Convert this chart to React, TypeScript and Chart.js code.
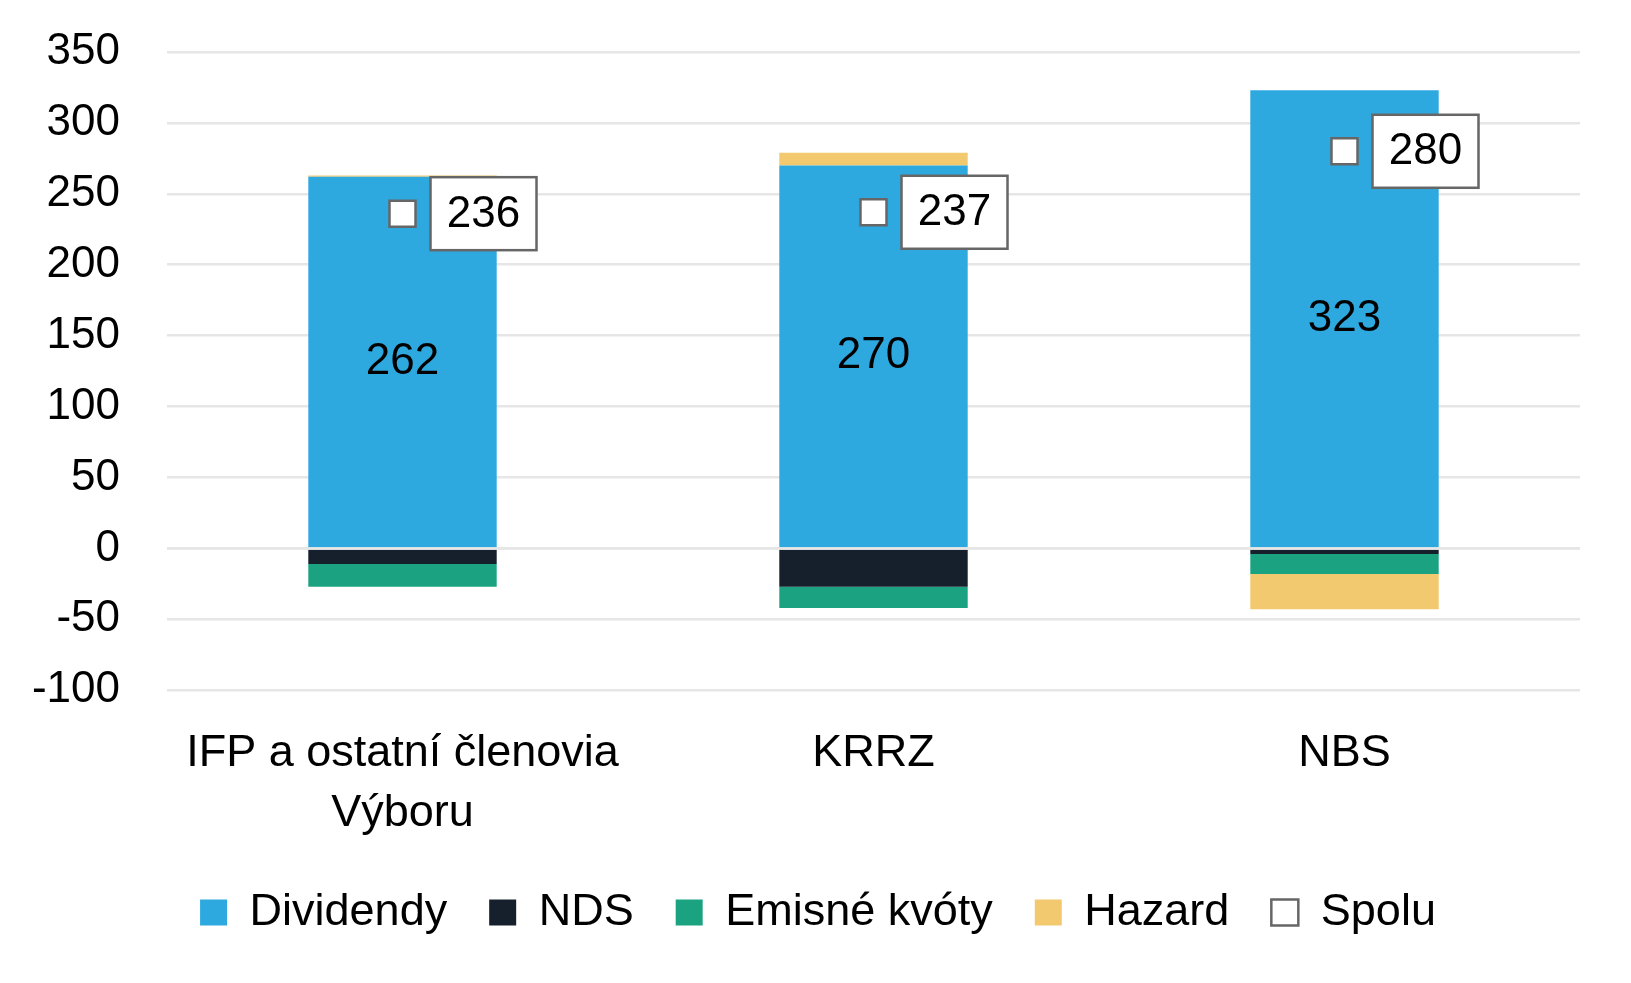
import { useEffect, useRef } from 'react';
import Chart from 'chart.js/auto';

const FONT = '"Liberation Sans", Arial, sans-serif';
const GRID_COLOR = '#e6e6e6';

const categories = [['IFP a ostatní členovia', 'Výboru'], 'KRRZ', 'NBS'];
const dividendy = [262, 270, 323];
const nds = [-11, -27, -4];
const emisneKvoty = [-16, -15, -14];
const hazard = [1, 9, -25];
const spolu = [236, 237, 280];
const yTicks = [-100, -50, 0, 50, 100, 150, 200, 250, 300, 350];

// draws the zero line over the bars, the value inside the blue bars and the boxed totals
const labelPlugin = {
  id: 'valueLabels',
  afterLayout(chart: any) {
    // legend sits a little right of the plot centre in the original
    if (chart.legend) {
      chart.legend.left += 12;
      chart.legend.right += 12;
    }
  },
  afterDatasetsDraw(chart: any) {
    const ctx = chart.ctx;
    const { left, right } = chart.chartArea;
    const y0 = chart.scales.y.getPixelForValue(0);
    ctx.save();
    ctx.strokeStyle = GRID_COLOR;
    ctx.lineWidth = 2.5;
    ctx.beginPath();
    ctx.moveTo(left, y0);
    ctx.lineTo(right, y0);
    ctx.stroke();

    ctx.font = `44px ${FONT}`;
    ctx.textAlign = 'center';
    ctx.textBaseline = 'middle';
    ctx.fillStyle = '#000';
    chart.getDatasetMeta(0).data.forEach((bar: any, i: number) => {
      const { x, y, base } = bar.getProps(['x', 'y', 'base'], true);
      ctx.fillText(String(dividendy[i]), x, (y + base) / 2);
    });

    chart.getDatasetMeta(4).data.forEach((pt: any, i: number) => {
      const { x, y } = pt.getProps(['x', 'y'], true);
      const bw = 106;
      const bh = 73;
      const bx = x + 28;
      ctx.fillStyle = '#fff';
      ctx.fillRect(bx, y - bh / 2, bw, bh);
      ctx.strokeStyle = '#666';
      ctx.lineWidth = 2.5;
      ctx.strokeRect(bx, y - bh / 2, bw, bh);
      ctx.fillStyle = '#000';
      ctx.fillText(String(spolu[i]), bx + bw / 2, y + 1);
    });
    ctx.restore();
  },
};

const App = () => {
  const chartRef = useRef<HTMLCanvasElement | null>(null);
  const chartInstance = useRef<Chart | null>(null);

  useEffect(() => {
    document.body.style.margin = '0';
    if (!chartRef.current) return;
    if (chartInstance.current) chartInstance.current.destroy();

    Chart.defaults.font.family = FONT;
    Chart.defaults.color = '#000';

    const barDefaults = { type: 'bar' as const, borderWidth: 0, order: 1 };

    chartInstance.current = new Chart(chartRef.current, {
      type: 'bar',
      data: {
        labels: categories,
        datasets: [
          { ...barDefaults, label: 'Dividendy', data: dividendy, backgroundColor: '#2ea9df' },
          { ...barDefaults, label: 'NDS', data: nds, backgroundColor: '#161f2c' },
          { ...barDefaults, label: 'Emisné kvóty', data: emisneKvoty, backgroundColor: '#1ba381' },
          { ...barDefaults, label: 'Hazard', data: hazard, backgroundColor: '#f2c96e' },
          {
            type: 'line',
            label: 'Spolu',
            data: spolu,
            showLine: false,
            stack: 'total',
            order: 0,
            pointStyle: 'rect',
            pointRadius: 18.4,
            pointBackgroundColor: '#fff',
            pointBorderColor: '#666',
            pointBorderWidth: 2.5,
            backgroundColor: '#fff',
            borderColor: '#666',
            borderWidth: 2.5,
          } as any,
        ],
      },
      options: {
        responsive: true,
        maintainAspectRatio: false,
        animation: false,
        datasets: { bar: { categoryPercentage: 1, barPercentage: 0.4 } },
        layout: { padding: { left: 32, right: 51, top: 52, bottom: 38 } },
        scales: {
          x: {
            stacked: true,
            grid: { display: false },
            border: { display: false },
            ticks: { font: { size: 45, lineHeight: 1.32 }, padding: 26, maxRotation: 0 },
            afterFit: (axis: any) => {
              axis.paddingLeft = 0;
              axis.paddingRight = 0;
              axis.height -= 21;
            },
          },
          y: {
            stacked: true,
            min: -100,
            max: 350,
            afterBuildTicks: (axis: any) => {
              axis.ticks = yTicks.map((v) => ({ value: v }));
            },
            afterFit: (axis: any) => {
              axis.width = 135;
              axis.paddingTop = 0;
              axis.paddingBottom = 0;
            },
            grid: { color: GRID_COLOR, lineWidth: 2.5, drawTicks: false },
            border: { display: false },
            ticks: { font: { size: 44 }, padding: 47 },
          },
        },
        plugins: {
          legend: {
            position: 'bottom',
            labels: {
              font: { size: 45 },
              boxWidth: 27,
              boxHeight: 26,
              padding: 42,
              color: '#000',
              sort: (a: any, b: any) => a.datasetIndex - b.datasetIndex,
            },
          },
          tooltip: { enabled: false },
        },
      },
      plugins: [labelPlugin],
    });

    return () => {
      if (chartInstance.current) {
        chartInstance.current.destroy();
        chartInstance.current = null;
      }
    };
  }, []);

  return (
    <div style={{ position: 'absolute', left: 0, top: 0, width: 1631, height: 983, background: '#fff' }}>
      <canvas ref={chartRef} />
    </div>
  );
};

export default App;
